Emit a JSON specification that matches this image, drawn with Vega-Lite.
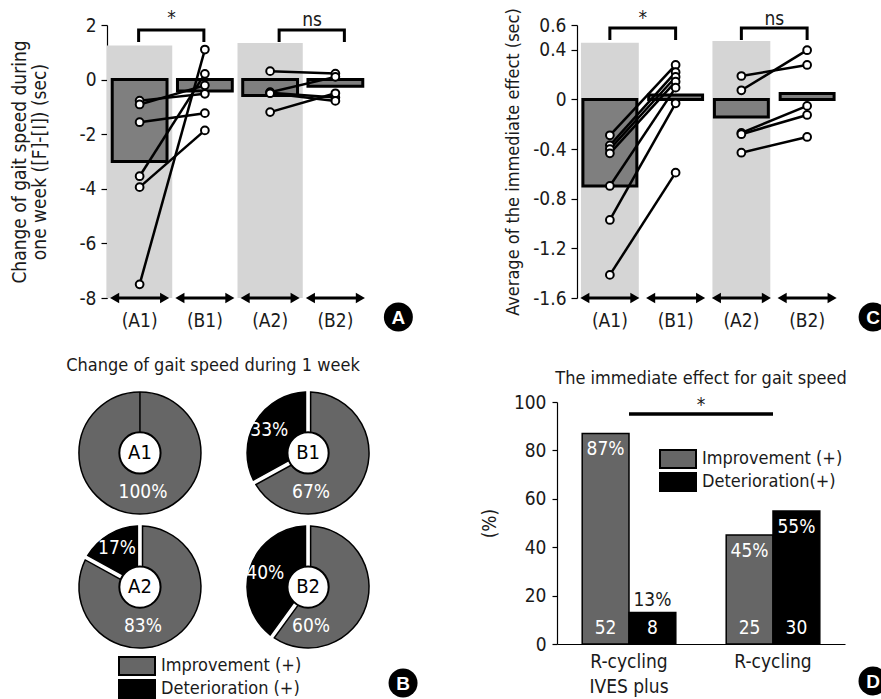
{
  "$schema": "https://vega.github.io/schema/vega-lite/v6.json",
  "padding": {"left": 10, "top": 7, "right": 2, "bottom": 2},
  "config": {
    "font": "Liberation Sans Narrow, DejaVu Sans Condensed, sans-serif",
    "view": {"stroke": null},
    "axis": {"grid": false, "labelFontSize": 19, "titleFontSize": 19, "titleFontWeight": "normal", "labelColor": "#1a1a1a", "titleColor": "#1a1a1a", "domainColor": "#000", "tickColor": "#000", "domainWidth": 1.2, "tickWidth": 1.2},
    "legend": {"labelFontSize": 18, "labelColor": "#1a1a1a"},
    "title": {"fontSize": 18, "fontWeight": "normal", "color": "#1a1a1a"},
    "text": {"fontSize": 19}
  },
  "datasets": {
    "gaitA": [
      {"id": "s1", "phase": "(A1)", "v": -0.77}, {"id": "s1", "phase": "(B1)", "v": -0.52},
      {"id": "s2", "phase": "(A1)", "v": -0.91}, {"id": "s2", "phase": "(B1)", "v": -0.21},
      {"id": "s3", "phase": "(A1)", "v": -1.56}, {"id": "s3", "phase": "(B1)", "v": -1.23},
      {"id": "s4", "phase": "(A1)", "v": -3.54}, {"id": "s4", "phase": "(B1)", "v": 0.21},
      {"id": "s5", "phase": "(A1)", "v": -3.94}, {"id": "s5", "phase": "(B1)", "v": -1.86},
      {"id": "s6", "phase": "(A1)", "v": -7.5}, {"id": "s6", "phase": "(B1)", "v": 1.1},
      {"id": "t1", "phase": "(A2)", "v": 0.31}, {"id": "t1", "phase": "(B2)", "v": 0.22},
      {"id": "t2", "phase": "(A2)", "v": -0.46}, {"id": "t2", "phase": "(B2)", "v": 0.1},
      {"id": "t3", "phase": "(A2)", "v": -0.48}, {"id": "t3", "phase": "(B2)", "v": -0.66},
      {"id": "t4", "phase": "(A2)", "v": -0.5}, {"id": "t4", "phase": "(B2)", "v": -0.78},
      {"id": "t5", "phase": "(A2)", "v": -1.19}, {"id": "t5", "phase": "(B2)", "v": -0.5}
    ],
    "meanA": [
      {"phase": "(A1)", "mean": -3.0}, {"phase": "(B1)", "mean": -0.42},
      {"phase": "(A2)", "mean": -0.58}, {"phase": "(B2)", "mean": -0.24}
    ],
    "bgA": [{"phase": "(A1)", "top": 1.25}, {"phase": "(A2)", "top": 1.34}],
    "bracketA": [
      {"g": "a", "phase": "(A1)", "y": 1.38, "o": 1}, {"g": "a", "phase": "(A1)", "y": 1.82, "o": 2},
      {"g": "a", "phase": "(B1)", "y": 1.82, "o": 3}, {"g": "a", "phase": "(B1)", "y": 1.38, "o": 4},
      {"g": "b", "phase": "(A2)", "y": 1.38, "o": 1}, {"g": "b", "phase": "(A2)", "y": 1.82, "o": 2},
      {"g": "b", "phase": "(B2)", "y": 1.82, "o": 3}, {"g": "b", "phase": "(B2)", "y": 1.38, "o": 4}
    ],
    "sigA": [{"g": "a", "phase": "(A1)", "y": 2.25, "label": "*"}, {"g": "b", "phase": "(A2)", "y": 2.2, "label": "ns"}],
    "gaitC": [
      {"id": "u1", "phase": "(A1)", "v": -0.289}, {"id": "u1", "phase": "(B1)", "v": 0.278},
      {"id": "u2", "phase": "(A1)", "v": -0.37}, {"id": "u2", "phase": "(B1)", "v": 0.22},
      {"id": "u3", "phase": "(A1)", "v": -0.4}, {"id": "u3", "phase": "(B1)", "v": 0.181},
      {"id": "u4", "phase": "(A1)", "v": -0.434}, {"id": "u4", "phase": "(B1)", "v": 0.143},
      {"id": "u5", "phase": "(A1)", "v": -0.697}, {"id": "u5", "phase": "(B1)", "v": 0.095},
      {"id": "u6", "phase": "(A1)", "v": -0.971}, {"id": "u6", "phase": "(B1)", "v": -0.031},
      {"id": "u7", "phase": "(A1)", "v": -1.414}, {"id": "u7", "phase": "(B1)", "v": -0.59},
      {"id": "w1", "phase": "(A2)", "v": 0.189}, {"id": "w1", "phase": "(B2)", "v": 0.278},
      {"id": "w2", "phase": "(A2)", "v": 0.074}, {"id": "w2", "phase": "(B2)", "v": 0.397},
      {"id": "w3", "phase": "(A2)", "v": -0.27}, {"id": "w3", "phase": "(B2)", "v": -0.052},
      {"id": "w4", "phase": "(A2)", "v": -0.28}, {"id": "w4", "phase": "(B2)", "v": -0.125},
      {"id": "w5", "phase": "(A2)", "v": -0.429}, {"id": "w5", "phase": "(B2)", "v": -0.302}
    ],
    "meanC": [
      {"phase": "(A1)", "mean": -0.697}, {"phase": "(B1)", "mean": 0.036},
      {"phase": "(A2)", "mean": -0.141}, {"phase": "(B2)", "mean": 0.047}
    ],
    "bgC": [{"phase": "(A1)", "top": 0.457}, {"phase": "(A2)", "top": 0.471}],
    "bracketC": [
      {"g": "a", "phase": "(A1)", "y": 0.479, "o": 1}, {"g": "a", "phase": "(A1)", "y": 0.576, "o": 2},
      {"g": "a", "phase": "(B1)", "y": 0.576, "o": 3}, {"g": "a", "phase": "(B1)", "y": 0.479, "o": 4},
      {"g": "b", "phase": "(A2)", "y": 0.479, "o": 1}, {"g": "b", "phase": "(A2)", "y": 0.576, "o": 2},
      {"g": "b", "phase": "(B2)", "y": 0.576, "o": 3}, {"g": "b", "phase": "(B2)", "y": 0.479, "o": 4}
    ],
    "sigC": [{"phase": "(A1)", "y": 0.66, "label": "*"}, {"phase": "(A2)", "y": 0.65, "label": "ns"}],
    "pies": [
      {"donut": "A1", "phase": "A", "period": "1", "outcome": "Improvement (+)", "pct": 100, "label": "100%"},
      {"donut": "A1", "phase": "A", "period": "1", "outcome": "Deterioration (+)", "pct": 0, "label": "0%"},
      {"donut": "B1", "phase": "B", "period": "1", "outcome": "Improvement (+)", "pct": 67, "label": "67%"},
      {"donut": "B1", "phase": "B", "period": "1", "outcome": "Deterioration (+)", "pct": 33, "label": "33%"},
      {"donut": "A2", "phase": "A", "period": "2", "outcome": "Improvement (+)", "pct": 83, "label": "83%"},
      {"donut": "A2", "phase": "A", "period": "2", "outcome": "Deterioration (+)", "pct": 17, "label": "17%"},
      {"donut": "B2", "phase": "B", "period": "2", "outcome": "Improvement (+)", "pct": 60, "label": "60%"},
      {"donut": "B2", "phase": "B", "period": "2", "outcome": "Deterioration (+)", "pct": 40, "label": "40%"}
    ],
    "immD": [
      {"group": "R-cycling IVES plus", "result": "Improvement (+)", "pct": 87, "n": 52, "label": "87%"},
      {"group": "R-cycling IVES plus", "result": "Deterioration(+)", "pct": 13, "n": 8, "label": "13%"},
      {"group": "R-cycling", "result": "Improvement (+)", "pct": 45, "n": 25, "label": "45%"},
      {"group": "R-cycling", "result": "Deterioration(+)", "pct": 55, "n": 30, "label": "55%"}
    ],
    "starD": [{"group": "R-cycling IVES plus", "y": 95}, {"group": "R-cycling", "y": 95}]
  },
  "columns": 2,
  "align": "each",
  "bounds": "flush",
  "spacing": {"row": 104, "column": 189},
  "resolve": {"scale": {"color": "independent", "x": "independent", "y": "independent"}, "legend": {"color": "independent"}},
  "concat": [
    {
      "width": 261, "height": 273,
      "layer": [
        {"data": {"name": "bgA"}, "mark": {"type": "bar", "color": "#d5d5d5", "width": {"band": 1}},
         "encoding": {
           "x": {"field": "phase", "type": "nominal", "sort": ["(A1)", "(B1)", "(A2)", "(B2)"], "scale": {"domain": ["(A1)", "(B1)", "(A2)", "(B2)"], "paddingInner": 0, "paddingOuter": 0},
                 "axis": {"title": null, "domain": false, "ticks": false, "labelAngle": 0, "labelPadding": 13}},
           "y": {"field": "top", "type": "quantitative", "scale": {"domain": [-8, 2], "nice": false, "zero": false},
                 "axis": {"values": [2, 0, -2, -4, -6, -8], "labelExpr": "'' + datum.value", "tickSize": 6, "labelPadding": 5, "title": ["Change of gait speed during", "one week ([F]-[I]) (sec)"], "titleLineHeight": 20, "titlePadding": 29}},
           "y2": {"datum": -8}}},
        {"data": {"name": "meanA"}, "mark": {"type": "bar", "fill": "#7f7f7f", "stroke": "#000", "strokeWidth": 3, "width": {"band": 0.84}},
         "encoding": {"x": {"field": "phase", "type": "nominal"}, "y": {"field": "mean", "type": "quantitative"}, "y2": {"datum": 0}}},
        {"mark": {"type": "rule", "strokeWidth": 3.5, "color": "#000"}, "encoding": {"y": {"datum": 0}}},
        {"data": {"name": "gaitA"}, "mark": {"type": "line", "color": "#000", "strokeWidth": 2.5},
         "encoding": {"x": {"field": "phase", "type": "nominal"}, "y": {"field": "v", "type": "quantitative"}, "detail": {"field": "id"}}},
        {"data": {"name": "gaitA"}, "mark": {"type": "point", "shape": "circle", "filled": true, "fill": "#fff", "stroke": "#000", "strokeWidth": 2, "size": 60, "opacity": 1},
         "encoding": {"x": {"field": "phase", "type": "nominal"}, "y": {"field": "v", "type": "quantitative"}}},
        {"data": {"name": "meanA"}, "mark": {"type": "tick", "orient": "horizontal", "thickness": 3, "size": 52, "color": "#000", "opacity": 1},
         "encoding": {"x": {"field": "phase", "type": "nominal"}, "y": {"datum": -8}}},
        {"data": {"name": "meanA"}, "mark": {"type": "point", "shape": "triangle-left", "filled": true, "color": "#000", "size": 110, "xOffset": -25, "opacity": 1},
         "encoding": {"x": {"field": "phase", "type": "nominal"}, "y": {"datum": -8}}},
        {"data": {"name": "meanA"}, "mark": {"type": "point", "shape": "triangle-right", "filled": true, "color": "#000", "size": 110, "xOffset": 25, "opacity": 1},
         "encoding": {"x": {"field": "phase", "type": "nominal"}, "y": {"datum": -8}}},
        {"data": {"name": "bracketA"}, "transform": [{"filter": "datum.g == 'a'"}], "mark": {"type": "line", "color": "#000", "strokeWidth": 3, "xOffset": -1},
         "encoding": {"x": {"field": "phase", "type": "nominal"}, "y": {"field": "y", "type": "quantitative"}, "order": {"field": "o"}}},
        {"data": {"name": "bracketA"}, "transform": [{"filter": "datum.g == 'b'"}], "mark": {"type": "line", "color": "#000", "strokeWidth": 3, "xOffset": 9},
         "encoding": {"x": {"field": "phase", "type": "nominal"}, "y": {"field": "y", "type": "quantitative"}, "order": {"field": "o"}}},
        {"data": {"name": "sigA"}, "transform": [{"filter": "datum.g == 'a'"}], "mark": {"type": "text", "xOffset": 32, "baseline": "middle", "fontSize": 19, "color": "#1a1a1a"},
         "encoding": {"x": {"field": "phase", "type": "nominal"}, "y": {"field": "y", "type": "quantitative"}, "text": {"field": "label"}}},
        {"data": {"name": "sigA"}, "transform": [{"filter": "datum.g == 'b'"}], "mark": {"type": "text", "xOffset": 42, "baseline": "middle", "fontSize": 19, "color": "#1a1a1a"},
         "encoding": {"x": {"field": "phase", "type": "nominal"}, "y": {"field": "y", "type": "quantitative"}, "text": {"field": "label"}}},
        {"data": {"name": "meanA"}, "transform": [{"filter": "datum.phase == '(B2)'"}], "mark": {"type": "point", "shape": "circle", "filled": true, "color": "#000", "size": 841, "xOffset": 63, "yOffset": 19, "opacity": 1},
         "encoding": {"x": {"field": "phase", "type": "nominal"}, "y": {"datum": -8}}},
        {"data": {"name": "meanA"}, "transform": [{"filter": "datum.phase == '(B2)'"}], "mark": {"type": "text", "font": "Liberation Sans, DejaVu Sans, sans-serif", "fontWeight": "bold", "fontSize": 19, "color": "#fff", "xOffset": 63, "yOffset": 20, "baseline": "middle"},
         "encoding": {"x": {"field": "phase", "type": "nominal"}, "y": {"datum": -8}, "text": {"value": "A"}}}
      ]
    },
    {
      "width": 283, "height": 273,
      "layer": [
        {"data": {"name": "bgC"}, "mark": {"type": "bar", "color": "#d5d5d5", "width": {"band": 0.88}},
         "encoding": {
           "x": {"field": "phase", "type": "nominal", "sort": ["(A1)", "(B1)", "(A2)", "(B2)"], "scale": {"domain": ["(A1)", "(B1)", "(A2)", "(B2)"], "paddingInner": 0, "paddingOuter": 0.152, "align": 1},
                 "axis": {"title": null, "domain": false, "ticks": false, "labelAngle": 0, "labelPadding": 13}},
           "y": {"field": "top", "type": "quantitative", "scale": {"domain": [-1.6, 0.6], "nice": false, "zero": false},
                 "axis": {"values": [0.6, 0.4, 0, -0.4, -0.8, -1.2, -1.6], "labelExpr": "'' + datum.value", "offset": -20, "tickSize": 6, "labelPadding": 5, "title": "Average of the immediate effect (sec)", "titleFontSize": 18, "titlePadding": 10}},
           "y2": {"datum": -1.6}}},
        {"data": {"name": "meanC"}, "mark": {"type": "bar", "fill": "#7f7f7f", "stroke": "#000", "strokeWidth": 3, "width": {"band": 0.82}},
         "encoding": {"x": {"field": "phase", "type": "nominal"}, "y": {"field": "mean", "type": "quantitative"}, "y2": {"datum": 0}}},
        {"mark": {"type": "rule", "strokeWidth": 3.5, "color": "#000"},
         "encoding": {"x": {"datum": "(A1)", "type": "nominal", "bandPosition": 0}, "x2": {"datum": "(B2)", "bandPosition": 1}, "y": {"datum": 0}}},
        {"data": {"name": "gaitC"}, "mark": {"type": "line", "color": "#000", "strokeWidth": 2.5},
         "encoding": {"x": {"field": "phase", "type": "nominal"}, "y": {"field": "v", "type": "quantitative"}, "detail": {"field": "id"}}},
        {"data": {"name": "gaitC"}, "mark": {"type": "point", "shape": "circle", "filled": true, "fill": "#fff", "stroke": "#000", "strokeWidth": 2, "size": 60, "opacity": 1},
         "encoding": {"x": {"field": "phase", "type": "nominal"}, "y": {"field": "v", "type": "quantitative"}}},
        {"data": {"name": "meanC"}, "mark": {"type": "tick", "orient": "horizontal", "thickness": 3, "size": 52, "color": "#000", "opacity": 1},
         "encoding": {"x": {"field": "phase", "type": "nominal"}, "y": {"datum": -1.6}}},
        {"data": {"name": "meanC"}, "mark": {"type": "point", "shape": "triangle-left", "filled": true, "color": "#000", "size": 110, "xOffset": -25, "opacity": 1},
         "encoding": {"x": {"field": "phase", "type": "nominal"}, "y": {"datum": -1.6}}},
        {"data": {"name": "meanC"}, "mark": {"type": "point", "shape": "triangle-right", "filled": true, "color": "#000", "size": 110, "xOffset": 25, "opacity": 1},
         "encoding": {"x": {"field": "phase", "type": "nominal"}, "y": {"datum": -1.6}}},
        {"data": {"name": "bracketC"}, "mark": {"type": "line", "color": "#000", "strokeWidth": 3},
         "encoding": {"x": {"field": "phase", "type": "nominal"}, "y": {"field": "y", "type": "quantitative"}, "detail": {"field": "g"}, "order": {"field": "o"}}},
        {"data": {"name": "sigC"}, "mark": {"type": "text", "xOffset": 33, "baseline": "middle", "fontSize": 19, "color": "#1a1a1a"},
         "encoding": {"x": {"field": "phase", "type": "nominal"}, "y": {"field": "y", "type": "quantitative"}, "text": {"field": "label"}}},
        {"data": {"name": "meanC"}, "transform": [{"filter": "datum.phase == '(B2)'"}], "mark": {"type": "point", "shape": "circle", "filled": true, "color": "#000", "size": 841, "xOffset": 66, "yOffset": 19, "opacity": 1},
         "encoding": {"x": {"field": "phase", "type": "nominal"}, "y": {"datum": -1.6}}},
        {"data": {"name": "meanC"}, "transform": [{"filter": "datum.phase == '(B2)'"}], "mark": {"type": "text", "font": "Liberation Sans, DejaVu Sans, sans-serif", "fontWeight": "bold", "fontSize": 19, "color": "#fff", "xOffset": 66, "yOffset": 20, "baseline": "middle"},
         "encoding": {"x": {"field": "phase", "type": "nominal"}, "y": {"datum": -1.6}, "text": {"value": "C"}}}
      ]
    },
    {
      "width": 234, "height": 236,
      "title": {"text": "Change of gait speed during 1 week", "anchor": "middle", "dx": -11, "offset": 14},
      "data": {"name": "pies"},
      "transform": [{"stack": "pct", "groupby": ["donut"], "sort": [{"field": "outcome", "order": "descending"}], "as": ["t0", "t1"]}],
      "encoding": {
        "x": {"field": "phase", "type": "nominal", "scale": {"type": "point", "padding": 0.196, "domain": ["A", "B"]}, "axis": null},
        "y": {"field": "period", "type": "nominal", "scale": {"type": "point", "padding": 0.38, "domain": ["1", "2"]}, "axis": null}
      },
      "layer": [
        {"transform": [{"filter": "datum.donut == 'A1'"}],
         "mark": {"type": "arc", "innerRadius": 20, "outerRadius": 61, "stroke": "#000", "strokeWidth": 1.5, "padAngle": 0},
         "encoding": {"theta": {"field": "t0", "type": "quantitative", "scale": {"domain": [0, 100]}}, "theta2": {"field": "t1"},
                      "color": {"field": "outcome", "type": "nominal", "scale": {"domain": ["Improvement (+)", "Deterioration (+)"], "range": ["#666666", "#000000"]},
                                "legend": {"title": null, "orient": "none", "legendX": 20, "legendY": 254, "symbolType": "M-2,-1H2V1H-2Z", "symbolSize": 324, "symbolStrokeColor": "#000", "symbolStrokeWidth": 2, "labelOffset": 14, "rowPadding": -3, "labelFontSize": 18}}}},
        {"transform": [{"filter": "datum.donut != 'A1'"}],
         "mark": {"type": "arc", "innerRadius": 20, "outerRadius": 61, "stroke": "#000", "strokeWidth": 1.5, "padAngle": 0.08},
         "encoding": {"theta": {"field": "t0", "type": "quantitative"}, "theta2": {"field": "t1"},
                      "color": {"field": "outcome", "type": "nominal"}}},
        {"mark": {"type": "text", "color": "#fff", "fontSize": 19},
         "encoding": {"theta": {"field": "pct", "type": "quantitative", "stack": true},
                      "radius": {"field": "donut", "type": "nominal", "scale": {"type": "point", "range": [45, 45]}},
                      "order": {"field": "outcome", "sort": "descending"}, "detail": {"field": "outcome"},
                      "text": {"condition": {"test": "datum.outcome == 'Improvement (+)' || datum.pct == 0", "value": ""}, "field": "label"}}},
        {"transform": [{"filter": "datum.outcome == 'Improvement (+)'"}], "mark": {"type": "text", "dy": 39, "dx": 3, "color": "#fff", "fontSize": 19}, "encoding": {"text": {"field": "label"}}},
        {"transform": [{"filter": "datum.outcome == 'Improvement (+)'"}], "mark": {"type": "point", "shape": "circle", "size": 1700, "filled": true, "fill": "#fff", "stroke": "#000", "strokeWidth": 2, "opacity": 1}},
        {"transform": [{"filter": "datum.outcome == 'Improvement (+)'"}], "mark": {"type": "text", "color": "#000", "fontSize": 20}, "encoding": {"text": {"field": "donut"}}},
        {"transform": [{"filter": "datum.donut == 'B2' && datum.outcome == 'Improvement (+)'"}], "mark": {"type": "point", "shape": "circle", "size": 841, "filled": true, "color": "#000", "xOffset": 95, "yOffset": 96, "opacity": 1}},
        {"transform": [{"filter": "datum.donut == 'B2' && datum.outcome == 'Improvement (+)'"}], "mark": {"type": "text", "font": "Liberation Sans, DejaVu Sans, sans-serif", "fontWeight": "bold", "fontSize": 19, "color": "#fff", "xOffset": 95, "yOffset": 97, "baseline": "middle"}, "encoding": {"text": {"value": "B"}}}
      ]
    },
    {
      "width": 288, "height": 242,
      "title": {"text": "The immediate effect for gait speed", "anchor": "middle", "offset": 5},
      "data": {"name": "immD"},
      "layer": [
        {"mark": {"type": "bar", "stroke": "#000", "strokeWidth": 1.5},
         "encoding": {
           "x": {"field": "group", "type": "nominal", "sort": ["R-cycling IVES plus", "R-cycling"], "scale": {"domain": ["R-cycling IVES plus", "R-cycling"], "paddingInner": 0.35, "paddingOuter": 0.175},
                 "axis": {"title": null, "ticks": false, "labelAngle": 0, "labelPadding": 8, "labelLineHeight": 25, "labelExpr": "datum.label == 'R-cycling IVES plus' ? ['R-cycling', 'IVES plus'] : datum.label"}},
           "xOffset": {"field": "result", "type": "nominal", "scale": {"domain": ["Improvement (+)", "Deterioration(+)"], "paddingInner": 0, "paddingOuter": 0}},
           "y": {"field": "pct", "type": "quantitative", "scale": {"domain": [0, 100], "nice": false},
                 "axis": {"values": [0, 20, 40, 60, 80, 100], "tickSize": 5, "labelPadding": 6, "title": "(%)", "titlePadding": 14}},
           "color": {"field": "result", "type": "nominal", "scale": {"domain": ["Improvement (+)", "Deterioration(+)"], "range": ["#666666", "#000000"]},
                     "legend": {"title": null, "orient": "none", "legendX": 111, "legendY": 47, "symbolType": "M-2,-1H2V1H-2Z", "symbolSize": 324, "symbolStrokeColor": "#000", "symbolStrokeWidth": 2, "labelOffset": 14, "rowPadding": -3, "labelFontSize": 18}}}},
        {"transform": [{"filter": "datum.pct > 20"}], "mark": {"type": "text", "color": "#fff", "dy": 16, "baseline": "middle", "fontSize": 19},
         "encoding": {"x": {"field": "group", "type": "nominal"}, "xOffset": {"field": "result", "type": "nominal"}, "y": {"field": "pct", "type": "quantitative"}, "text": {"field": "label"}}},
        {"transform": [{"filter": "datum.pct <= 20"}], "mark": {"type": "text", "color": "#1a1a1a", "dy": -13, "baseline": "middle", "fontSize": 19},
         "encoding": {"x": {"field": "group", "type": "nominal"}, "xOffset": {"field": "result", "type": "nominal"}, "y": {"field": "pct", "type": "quantitative"}, "text": {"field": "label"}}},
        {"mark": {"type": "text", "color": "#fff", "dy": -16, "baseline": "middle", "fontSize": 19},
         "encoding": {"x": {"field": "group", "type": "nominal"}, "xOffset": {"field": "result", "type": "nominal"}, "y": {"datum": 0}, "text": {"field": "n"}}},
        {"data": {"name": "starD"}, "mark": {"type": "line", "color": "#000", "strokeWidth": 3.5},
         "encoding": {"x": {"field": "group", "type": "nominal"}, "y": {"field": "y", "type": "quantitative"}}},
        {"data": {"name": "starD"}, "transform": [{"filter": "datum.group == 'R-cycling IVES plus'"}], "mark": {"type": "text", "xOffset": 72, "dy": -9, "baseline": "middle", "fontSize": 19, "color": "#1a1a1a"},
         "encoding": {"x": {"field": "group", "type": "nominal"}, "y": {"field": "y", "type": "quantitative"}, "text": {"value": "*"}}},
        {"data": {"name": "starD"}, "transform": [{"filter": "datum.group == 'R-cycling'"}], "mark": {"type": "point", "shape": "circle", "filled": true, "color": "#000", "size": 841, "xOffset": 100, "yOffset": 37, "opacity": 1},
         "encoding": {"x": {"field": "group", "type": "nominal"}, "y": {"datum": 0}}},
        {"data": {"name": "starD"}, "transform": [{"filter": "datum.group == 'R-cycling'"}], "mark": {"type": "text", "font": "Liberation Sans, DejaVu Sans, sans-serif", "fontWeight": "bold", "fontSize": 19, "color": "#fff", "xOffset": 100, "yOffset": 38, "baseline": "middle"},
         "encoding": {"x": {"field": "group", "type": "nominal"}, "y": {"datum": 0}, "text": {"value": "D"}}}
      ]
    }
  ]
}
